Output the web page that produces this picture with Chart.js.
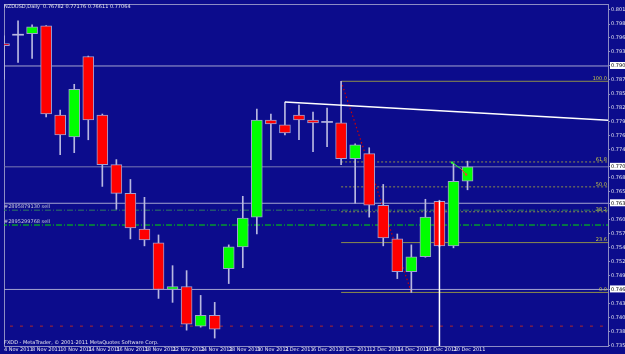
<!DOCTYPE html>
<html>
<head>
<meta charset="utf-8">
<script src="https://cdn.jsdelivr.net/npm/chart.js@4/dist/chart.umd.min.js"></script>
<style>
  html, body { margin: 0; padding: 0; background: #0c0c8c; }
  #wrap { width: 625px; height: 354px; }
</style>
</head>
<body>
<div id="wrap"><canvas id="chart"></canvas></div>
<script>
// NZDUSD daily, 4 Nov - 21 Dec 2011
const barDates = ['4 Nov 2011', '7 Nov 2011', '8 Nov 2011', '9 Nov 2011', '10 Nov 2011', '11 Nov 2011',
  '14 Nov 2011', '15 Nov 2011', '16 Nov 2011', '17 Nov 2011', '18 Nov 2011', '21 Nov 2011',
  '22 Nov 2011', '23 Nov 2011', '24 Nov 2011', '25 Nov 2011', '28 Nov 2011', '29 Nov 2011',
  '30 Nov 2011', '1 Dec 2011', '2 Dec 2011', '5 Dec 2011', '6 Dec 2011', '7 Dec 2011',
  '8 Dec 2011', '9 Dec 2011', '12 Dec 2011', '13 Dec 2011', '14 Dec 2011', '15 Dec 2011',
  '16 Dec 2011', '19 Dec 2011', '20 Dec 2011', '21 Dec 2011'];

const opens = [0.79495, 0.79671, 0.79691, 0.79847, 0.78087, 0.77656, 0.79241, 0.78087, 0.77109, 0.76541,
  0.75837, 0.75563, 0.74644, 0.74703, 0.73920, 0.74136, 0.75055, 0.75485, 0.76072, 0.77989,
  0.77891, 0.78087, 0.77989, 0.77950, 0.77930, 0.77226, 0.77324, 0.76307, 0.75642, 0.74996,
  0.75290, 0.76385, 0.75505, 0.76782];
const highs = [0.79651, 0.79945, 0.79867, 0.79850, 0.78184, 0.78693, 0.79250, 0.78106, 0.77207, 0.76815,
  0.76463, 0.75720, 0.75114, 0.75016, 0.74527, 0.74390, 0.75524, 0.76483, 0.78204, 0.78106,
  0.78341, 0.78282, 0.78145, 0.78224, 0.78752, 0.77519, 0.77441, 0.76717, 0.75739, 0.75524,
  0.76424, 0.76405, 0.77128, 0.77176];
const lows = [0.78791, 0.79123, 0.79202, 0.78048, 0.77304, 0.77343, 0.77598, 0.76678, 0.76228, 0.75642,
  0.75505, 0.74468, 0.74390, 0.73842, 0.73901, 0.73686, 0.74761, 0.75074, 0.75739, 0.77207,
  0.77696, 0.77598, 0.77363, 0.77461, 0.77109, 0.76346, 0.76072, 0.75505, 0.74859, 0.74586,
  0.75280, 0.75485, 0.75466, 0.76611];
const closes = [0.79456, 0.79671, 0.79828, 0.78106, 0.77696, 0.78595, 0.77989, 0.77109, 0.76541, 0.75857,
  0.75622, 0.74644, 0.74703, 0.73960, 0.74136, 0.73862, 0.75485, 0.76052, 0.77989, 0.77911,
  0.77735, 0.77989, 0.77930, 0.77950, 0.77226, 0.77500, 0.76307, 0.75661, 0.74996, 0.75290,
  0.76072, 0.75505, 0.76776, 0.77064];

const labelBars = [0, 2, 4, 6, 8, 10, 12, 14, 16, 18, 20, 22, 24, 26, 28, 30, 32];
const priceTicks = [0.80160, 0.79880, 0.79610, 0.79330, 0.79050, 0.78780, 0.78500, 0.78230, 0.77950,
  0.77680, 0.77400, 0.77130, 0.76850, 0.76570, 0.76300, 0.76020, 0.75750, 0.75470, 0.75200,
  0.74920, 0.74640, 0.74370, 0.74090, 0.73820, 0.73540];

// horizontal lines with highlighted price labels
const markedPrices = [0.79054, 0.77064, 0.76345, 0.74645];
// pending orders
const orderPrices = [0.76209, 0.75916];
const orderNames = ['#2895879130 sell', '#2895299768 sell'];
const stopPrice = 0.73921;
// fibonacci retracement anchors (bar index, price)
const fibHigh = { x: 24, y: 0.78752 };
const fibLow = { x: 29, y: 0.74586 };
const fibLevels = [0, 23.6, 38.2, 50, 61.8, 100];
const fibLabels = ['0.0', '23.6', '38.2', '50.0', '61.8', '100.0'];
// trend line and trade arrow
const trendLine = [{ x: 20, y: 0.78341 }, { x: 43, y: 0.77985 }];
const tradeOpen = [{ x: 31.9, y: 0.77148 }, { x: 32.5, y: 0.77031 }];
const tradeClose = [{ x: 32.5, y: 0.77031 }, { x: 32.9, y: 0.76913 }];
const vLine = [{ x: 31, y: 0.76385 }, { x: 31, y: 0.73529 }];

const BG = '#0c0c8c';
const WICK = '#b8b8e0';
const FIB = '#8e8e4a';

const isDoji = i => Math.abs(opens[i] - closes[i]) < 0.00005;
const isMarked = v => markedPrices.some(p => Math.abs(p - v) < 0.000001);

const wickData = opens.map((o, i) => ({ x: i, y: [lows[i], highs[i]] }));
const bodyData = opens.map((o, i) => isDoji(i)
  ? { x: i, y: [o - 0.0001, o + 0.0001] }
  : { x: i, y: [Math.min(o, closes[i]), Math.max(o, closes[i])] });
const bodyColors = opens.map((o, i) => isDoji(i) ? WICK : (closes[i] > o ? '#00ff00' : '#ff0000'));

function seg(points, color, extra) {
  return Object.assign({
    type: 'line', data: points, borderColor: color, borderWidth: 1,
    pointRadius: 0, fill: false, tension: 0, order: 10
  }, extra || {});
}

const datasets = [];

// horizontal price lines
markedPrices.forEach((p, k) => {
  datasets.push(seg([{ x: -1, y: p }, { x: 50, y: p }], k === 1 ? '#7a7ab4' : '#a4a4d0'));
});
// order lines + stop
datasets.push(seg([{ x: -1, y: orderPrices[0] }, { x: 50, y: orderPrices[0] }], '#2e7a62', { borderDash: [6, 2, 1, 2] }));
datasets.push(seg([{ x: -1, y: orderPrices[1] }, { x: 50, y: orderPrices[1] }], '#00e000', { borderDash: [6, 2, 1, 2] }));
datasets.push(seg([{ x: -1, y: stopPrice }, { x: 50, y: stopPrice }], '#b02828', { borderDash: [3, 7] }));

// fibonacci levels
fibLevels.forEach(lv => {
  const p = fibLow.y + (fibHigh.y - fibLow.y) * lv / 100;
  const solid = lv === 0 || lv === 23.6 || lv === 100;
  datasets.push(seg([{ x: fibHigh.x, y: p }, { x: 50, y: p }], FIB, solid ? {} : { borderDash: [2, 2] }));
});
datasets.push(seg([fibHigh, fibLow], '#d00000', { borderDash: [1.5, 2.5], borderWidth: 1.2, order: 9 }));

// candles
datasets.push({
  type: 'bar', data: wickData, backgroundColor: WICK, borderWidth: 0,
  barThickness: 1, grouped: false, order: 6
});
datasets.push({
  type: 'bar', data: bodyData, backgroundColor: bodyColors,
  borderColor: opens.map((o, i) => isDoji(i) ? WICK : '#a0a0d4'),
  borderWidth: opens.map((o, i) => isDoji(i) ? 0 : 1),
  borderSkipped: false, barThickness: 11, grouped: false, order: 5
});

// objects on top
datasets.push(seg(trendLine, '#ffffff', { borderWidth: 1.5, order: 2 }));
datasets.push(seg(vLine, '#ffffff', { borderWidth: 1.5, order: 2 }));
datasets.push(seg(tradeOpen, '#30ff30', { order: 1, pointRadius: [1.5, 0], pointStyle: 'rect', pointBackgroundColor: '#30ff30', pointBorderWidth: 0 }));
datasets.push(seg(tradeClose, '#ff3030', { order: 1, pointRadius: [0, 1.5], pointStyle: 'rect', pointBackgroundColor: '#ff3030', pointBorderWidth: 0 }));

const mt4Plugin = {
  id: 'mt4',
  beforeDraw(chart) {
    const c = chart.ctx;
    c.save();
    c.fillStyle = BG;
    c.fillRect(0, 0, chart.width, chart.height);
    c.restore();
  },
  beforeDatasetsDraw(chart) {
    const c = chart.ctx;
    const a = chart.chartArea;
    c.save();
    c.strokeStyle = '#8c8cc4';
    c.lineWidth = 1;
    c.strokeRect(a.left + 0.5, a.top + 0.5, a.right - a.left, a.bottom - a.top);
    c.restore();
  },
  afterDraw(chart) {
    const c = chart.ctx;
    const a = chart.chartArea;
    const y = chart.scales.y;
    c.save();
    c.font = '5px "DejaVu Sans"';
    c.textBaseline = 'top';
    c.fillStyle = '#e6e6f0';
    c.fillText('NZDUSD,Daily  0.76782 0.77176 0.76611 0.77064', 4, 4);
    c.textBaseline = 'bottom';
    c.fillText('FXDD - MetaTrader, \u00a9 2001-2011 MetaQuotes Software Corp.', 4, a.bottom - 1);
    c.fillStyle = '#c8c8dc';
    orderPrices.forEach((p, k) => c.fillText(orderNames[k], 4, y.getPixelForValue(p) - 1));
    c.textAlign = 'right';
    c.fillStyle = '#c8c848';
    fibLevels.forEach((lv, k) => {
      const p = fibLow.y + (fibHigh.y - fibLow.y) * lv / 100;
      c.fillText(fibLabels[k], a.right - 1, y.getPixelForValue(p));
    });
    c.restore();
  }
};

const allPriceTicks = priceTicks
  .filter(v => !markedPrices.some(p => Math.abs(p - v) < 0.0008))
  .concat(markedPrices)
  .sort((a, b) => b - a);

new Chart(document.getElementById('chart'), {
  type: 'bar',
  data: { datasets },
  options: {
    responsive: true,
    maintainAspectRatio: false,
    animation: false,
    events: [],
    layout: { padding: { top: 1, left: 1, right: 0, bottom: 0 } },
    plugins: { legend: { display: false }, tooltip: { enabled: false } },
    scales: {
      x: {
        type: 'linear',
        min: 0,
        max: 43,
        offset: false,
        afterBuildTicks: s => { s.ticks = labelBars.map(v => ({ value: v })); },
        afterFit: s => { s.height = 8; },
        grid: { drawOnChartArea: false, drawTicks: true, tickLength: 1, color: '#9090c0' },
        border: { display: false },
        ticks: {
          align: 'start', padding: 0, maxRotation: 0, autoSkip: false,
          color: '#e6e6f0', font: { family: 'DejaVu Sans', size: 5 },
          callback: v => barDates[v]
        }
      },
      y: {
        type: 'linear',
        position: 'right',
        min: 0.73529,
        max: 0.80277,
        beginAtZero: false,
        afterBuildTicks: s => { s.ticks = allPriceTicks.map(v => ({ value: v })); },
        afterFit: s => { s.width = 17; },
        grid: { drawOnChartArea: false, drawTicks: true, tickLength: 2, color: '#9090c0' },
        border: { display: true, color: '#8c8cc4' },
        ticks: {
          padding: 1, autoSkip: false,
          font: { family: 'DejaVu Sans', size: 5 },
          color: ctx => isMarked(ctx.tick.value) ? '#000000' : '#e6e6f0',
          showLabelBackdrop: ctx => isMarked(ctx.tick.value),
          backdropColor: '#ffffff',
          backdropPadding: { top: 1, bottom: 0, left: 1, right: 6 },
          callback: v => v.toFixed(5)
        }
      }
    }
  },
  plugins: [mt4Plugin]
});
</script>
</body>
</html>
